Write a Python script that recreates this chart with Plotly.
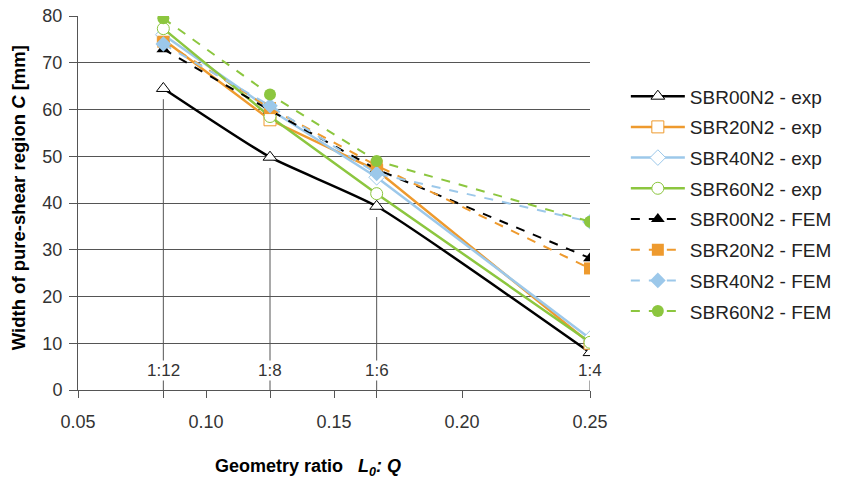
import plotly.graph_objects as go

# Geometry ratio L0:Q of the four specimen shapes
ratio = [1 / 12, 1 / 8, 1 / 6, 1 / 4]
ratio_labels = ["1:12", "1:8", "1:6", "1:4"]

# Width of the pure-shear region C [mm] - experiment
sbr00_exp = [64.5, 49.8, 39.3, 8.0]
sbr20_exp = [75.0, 57.8, 47.0, 10.0]
sbr40_exp = [76.0, 60.0, 45.5, 11.0]
sbr60_exp = [77.3, 58.5, 42.0, 10.2]

# Width of the pure-shear region C [mm] - FEM
sbr00_fem = [72.9, 59.8, 47.2, 28.2]
sbr20_fem = [74.5, 60.3, 48.0, 26.0]
sbr40_fem = [74.0, 60.8, 46.3, 36.0]
sbr60_fem = [79.5, 63.2, 49.0, 36.0]

x_ticks = [0.05, 0.10, 0.15, 0.20, 0.25]
y_ticks = [0, 10, 20, 30, 40, 50, 60, 70, 80]

BLACK = "#000000"
ORANGE = "#EE9A2E"
BLUE = "#9CC8EA"
GREEN = "#8CC63F"
GRID = "#555555"
FONT = "Liberation Sans, Arial, sans-serif"

fig = go.Figure()

# drop lines from the lowest measured point of each ratio down to the axis
exp_all = [sbr00_exp, sbr20_exp, sbr40_exp, sbr60_exp]
for i, xv in enumerate(ratio):
    low = min(s[i] for s in exp_all)
    fig.add_trace(go.Scatter(
        x=[xv, xv], y=[low - 2.3, 0], mode="lines",
        line=dict(color=GRID, width=1), showlegend=False, hoverinfo="skip"))

exp_series = [
    ("SBR00N2 - exp", sbr00_exp, BLACK, "triangle-up", "spline"),
    ("SBR20N2 - exp", sbr20_exp, ORANGE, "square", "linear"),
    ("SBR40N2 - exp", sbr40_exp, BLUE, "diamond", "linear"),
    ("SBR60N2 - exp", sbr60_exp, GREEN, "circle", "linear"),
]
fem_series = [
    ("SBR00N2 - FEM", sbr00_fem, BLACK, "triangle-up"),
    ("SBR20N2 - FEM", sbr20_fem, ORANGE, "square"),
    ("SBR40N2 - FEM", sbr40_fem, BLUE, "diamond"),
    ("SBR60N2 - FEM", sbr60_fem, GREEN, "circle"),
]

for name, vals, col, sym, shape in exp_series:
    fig.add_trace(go.Scatter(
        x=ratio, y=vals, name=name, legendgroup=name, mode="lines+markers",
        line=dict(color=col, width=2.5, shape=shape, smoothing=0.5),
        marker=dict(symbol=sym, size=12, color="white",
                    line=dict(color=col, width=1))))

for name, vals, col, sym in fem_series:
    fig.add_trace(go.Scatter(
        x=ratio, y=vals, name=name, legendgroup=name, mode="lines+markers",
        line=dict(color=col, width=2, dash="dash"),
        marker=dict(symbol=sym, size=12, color=col)))

# ratio labels sitting on the drop lines
for xv, lab in zip(ratio, ratio_labels):
    fig.add_annotation(x=xv, y=4.2, text=lab, showarrow=False,
                       bgcolor="white", borderpad=0,
                       font=dict(family=FONT, size=17, color="#333333"))

# axis titles
fig.add_annotation(xref="paper", yref="paper", x=-0.117, y=0.513,
                   xanchor="center", yanchor="middle",
                   text="<b>Width of pure-shear region <i>C</i> [mm]</b>",
                   textangle=-90, showarrow=False,
                   font=dict(family=FONT, size=18.5, color=BLACK))
fig.add_annotation(xref="paper", yref="paper", x=0.449, y=-0.206,
                   xanchor="center", yanchor="middle",
                   text="<b>Geometry ratio &nbsp; <i>L<sub>0</sub>: Q</i></b>",
                   showarrow=False, font=dict(family=FONT, size=18, color=BLACK))

x_tickvals = x_ticks + ratio[:3]
x_ticktext = ["%.2f" % v for v in x_ticks] + ["" for _ in ratio[:3]]

fig.update_layout(
    width=850, height=485,
    margin=dict(l=78, r=260, t=16, b=95, autoexpand=False),
    plot_bgcolor="white", paper_bgcolor="white",
    font=dict(family=FONT, size=18, color="#333333"),
    xaxis=dict(range=[0.05, 0.25], tickvals=x_tickvals, ticktext=x_ticktext,
               showgrid=False, zeroline=False, showline=True, automargin=False,
               linecolor=GRID, linewidth=1, ticks="outside", ticklen=7,
               tickcolor=GRID, ticklabelstandoff=8,
               tickfont=dict(size=18, color="#333333")),
    yaxis=dict(range=[0, 80], tickvals=y_ticks, showgrid=True,
               gridcolor=GRID, gridwidth=1, zeroline=False, showline=True,
               automargin=False,
               linecolor=GRID, linewidth=1, ticks="outside", ticklen=8,
               tickcolor=GRID, ticklabelstandoff=3,
               tickfont=dict(size=18, color="#333333")),
    legend=dict(x=1.07, y=0.836, xanchor="left", yanchor="top",
                font=dict(family=FONT, size=19, color="#222222"),
                tracegroupgap=3, itemwidth=54, bgcolor="rgba(0,0,0,0)"),
    showlegend=True,
)

fig.write_html("out.html")
